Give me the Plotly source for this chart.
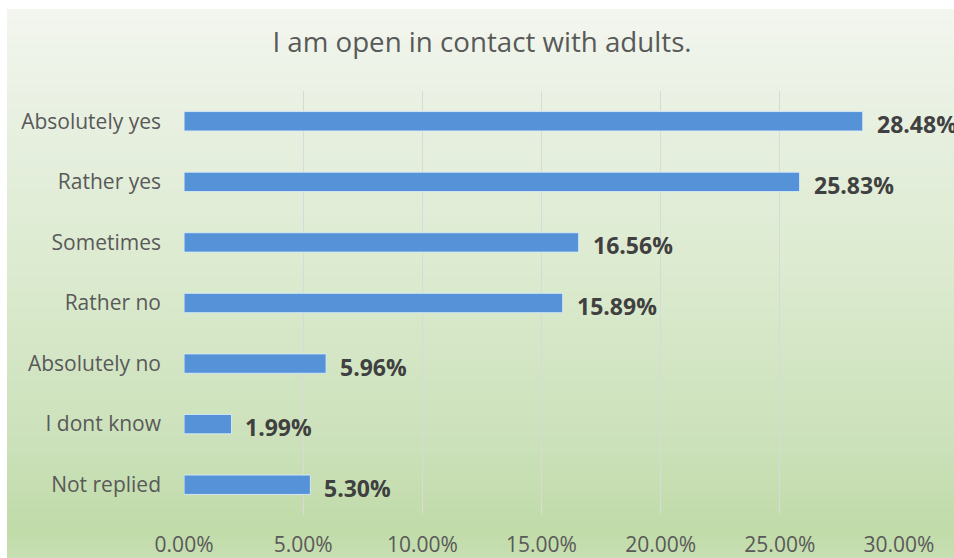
import base64
import struct
import zlib

import plotly.graph_objects as go

# ---- data ----
categories = ["Absolutely yes", "Rather yes", "Sometimes", "Rather no",
              "Absolutely no", "I dont know", "Not replied"]
values = [28.48, 25.83, 16.56, 15.89, 5.96, 1.99, 5.30]
tick_values = [0, 5, 10, 15, 20, 25, 30]
tick_labels = [f"{v:.2f}%" for v in tick_values]
title_text = "I am open in contact with adults."

# ---- geometry (pixels; page body margin removed below) ----
W, H = 954, 558
L, R, T, B = 184, 55, 91, 43
PW, PH = W - L - R, H - T - B
CH_X0, CH_Y0 = 7, 9  # top-left corner of the chart area (gradient)


def gradient_png(stops, n=200):
    rows = []
    for i in range(n):
        f = i / (n - 1)
        for j in range(len(stops) - 1):
            f0, c0 = stops[j]
            f1, c1 = stops[j + 1]
            if f0 <= f <= f1:
                t = (f - f0) / (f1 - f0) if f1 > f0 else 0
                c = [round(c0[k] + (c1[k] - c0[k]) * t) for k in range(3)]
                break
        rows.append(b"\x00" + bytes(c))
    raw = b"".join(rows)

    def chunk(tag, data):
        return (struct.pack(">I", len(data)) + tag + data +
                struct.pack(">I", zlib.crc32(tag + data) & 0xffffffff))

    png = b"\x89PNG\r\n\x1a\n"
    png += chunk(b"IHDR", struct.pack(">IIBBBBB", 1, n, 8, 2, 0, 0, 0))
    png += chunk(b"IDAT", zlib.compress(raw))
    png += chunk(b"IEND", b"")
    return "data:image/png;base64," + base64.b64encode(png).decode()


bg = gradient_png([
    (0.0, (243, 246, 239)),
    (0.2, (232, 240, 225)),
    (0.5, (219, 234, 206)),
    (0.8, (203, 225, 186)),
    (0.95, (193, 219, 169)),
    (1.0, (199, 223, 178)),
])

fig = go.Figure()
fig.add_trace(go.Bar(
    x=values,
    y=categories,
    orientation="h",
    marker=dict(color="#5592d7", line=dict(color="rgba(215,236,248,0.9)", width=1)),
    width=0.32,
    hoverinfo="skip",
))

annotations = []
for cat, v in zip(categories, values):
    annotations.append(dict(
        x=v, y=cat, xref="x", yref="y",
        text=f"<b>{v:.2f}%</b>",
        showarrow=False, xanchor="left", yanchor="middle",
        xshift=12, yshift=-3,
        font=dict(family="Open Sans", size=23, color="#404040"),
    ))

fig.update_layout(
    width=W, height=H,
    margin=dict(l=L, r=R, t=T, b=B, pad=0, autoexpand=False),
    paper_bgcolor="white",
    plot_bgcolor="rgba(0,0,0,0)",
    showlegend=False,
    title=dict(
        text=title_text,
        x=482 / W, xanchor="center",
        y=1 - 42 / H, yanchor="middle", yref="container",
        font=dict(family="Open Sans", size=27.7, color="#595959"),
    ),
    images=[dict(
        source=bg, xref="paper", yref="paper",
        x=(CH_X0 - L) / PW, y=(H - B - CH_Y0) / PH,
        sizex=(W - CH_X0) / PW, sizey=(H - CH_Y0) / PH,
        xanchor="left", yanchor="top",
        sizing="stretch", layer="below",
    )],
    annotations=annotations,
    xaxis=dict(
        range=[-0.002, 30.002],
        tickvals=tick_values,
        ticktext=tick_labels,
        showgrid=True, gridcolor="#d9d9d9", gridwidth=1,
        zeroline=False, showline=False, ticks="",
        ticklabelstandoff=15,
        automargin=False,
        tickfont=dict(family="Open Sans", size=21, color="#595959"),
        fixedrange=True,
    ),
    yaxis=dict(
        categoryorder="array", categoryarray=categories,
        autorange="reversed",
        showgrid=False, zeroline=False, showline=False, ticks="",
        ticklabelstandoff=22,
        automargin=False,
        tickfont=dict(family="Open Sans", size=21, color="#595959"),
        fixedrange=True,
    ),
)

fig.write_html(
    "out.html",
    config={"displayModeBar": False},
    post_script="document.body.style.margin='0';document.body.style.overflow='hidden';",
)
